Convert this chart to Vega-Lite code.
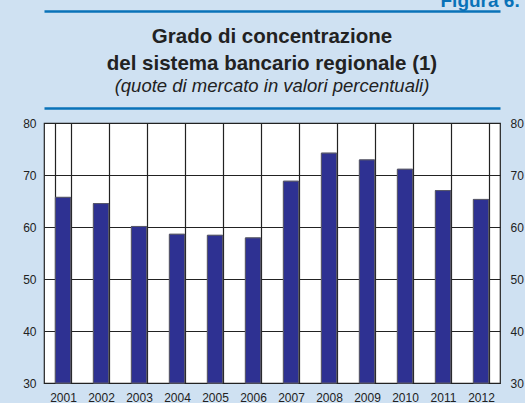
{
  "$schema": "https://vega.github.io/schema/vega-lite/v6.json",
  "width": 456,
  "height": 260,
  "autosize": {"type": "none"},
  "padding": {"left": 44, "top": 123, "right": 25, "bottom": 20},
  "background": "#cfe1f2",
  "title": {
    "text": ["Grado di concentrazione", "del sistema bancario regionale (1)"],
    "subtitle": "(quote di mercato in valori percentuali)",
    "font": "Liberation Sans",
    "fontSize": 20.5,
    "fontWeight": "bold",
    "color": "#222222",
    "lineHeight": 27,
    "subtitleFont": "Liberation Sans",
    "subtitleFontSize": 18.5,
    "subtitleFontStyle": "italic",
    "subtitleColor": "#222222",
    "subtitlePadding": 2,
    "anchor": "middle",
    "offset": -104
  },
  "data": {
    "values": [
      {"year": "2001", "value": 65.7},
      {"year": "2002", "value": 64.5},
      {"year": "2003", "value": 60.1},
      {"year": "2004", "value": 58.6},
      {"year": "2005", "value": 58.4},
      {"year": "2006", "value": 57.9},
      {"year": "2007", "value": 68.8},
      {"year": "2008", "value": 74.2},
      {"year": "2009", "value": 72.9},
      {"year": "2010", "value": 71.1},
      {"year": "2011", "value": 67.0},
      {"year": "2012", "value": 65.3}
    ]
  },
  "layer": [
    {
      "mark": {"type": "bar", "color": "#2e3192", "stroke": "#5a5a6a", "strokeWidth": 1},
      "encoding": {
        "x": {
          "field": "year",
          "type": "nominal",
          "sort": null,
          "scale": {"paddingInner": 0.6, "paddingOuter": 0.3},
          "axis": {
            "title": null,
            "orient": "bottom",
            "labelAngle": 0,
            "tickBand": "extent",
            "grid": true,
            "gridColor": "#222222",
            "gridOpacity": 1,
            "gridWidth": 1.2,
            "ticks": false,
            "domain": false,
            "labelFont": "Liberation Sans",
            "labelFontSize": 12,
            "labelColor": "#222222",
            "labelPadding": 9
          }
        },
        "y": {
          "field": "value",
          "type": "quantitative",
          "scale": {"domain": [30, 80], "nice": false, "zero": false},
          "axis": {
            "title": null,
            "orient": "left",
            "values": [30, 40, 50, 60, 70, 80],
            "grid": true,
            "gridColor": "#222222",
            "gridOpacity": 1,
            "gridWidth": 1.2,
            "ticks": false,
            "domain": false,
            "labelFont": "Liberation Sans",
            "labelFontSize": 12,
            "labelColor": "#222222",
            "labelPadding": 8
          }
        },
        "y2": {"datum": 30}
      }
    },
    {
      "mark": {"type": "bar", "color": "#2e3192", "stroke": "#5a5a6a", "strokeWidth": 1},
      "encoding": {
        "x": {
          "field": "year",
          "type": "nominal",
          "sort": null,
          "axis": {
            "title": "Figura 6.",
            "orient": "top",
            "offset": 15,
            "labels": false,
            "ticks": false,
            "grid": false,
            "domain": true,
            "domainColor": "#0a72b8",
            "domainWidth": 2.5,
            "titleFont": "Liberation Sans",
            "titleFontSize": 19,
            "titleFontWeight": "bold",
            "titleColor": "#0a72b8",
            "titleAnchor": "end",
            "titleAlign": "left",
            "titleX": 396,
            "titleY": -102,
            "titleBaseline": "alphabetic"
          }
        },
        "y": {
          "field": "value",
          "type": "quantitative",
          "axis": {
            "title": null,
            "orient": "right",
            "values": [30, 40, 50, 60, 70, 80],
            "grid": false,
            "ticks": false,
            "domain": false,
            "labelFont": "Liberation Sans",
            "labelFontSize": 12,
            "labelColor": "#222222",
            "labelPadding": 10
          }
        },
        "y2": {"datum": 30}
      }
    },
    {
      "mark": {"type": "bar", "opacity": 0},
      "encoding": {
        "x": {
          "field": "year",
          "type": "nominal",
          "sort": null,
          "axis": {
            "title": null,
            "orient": "top",
            "offset": 112,
            "labels": false,
            "ticks": false,
            "grid": false,
            "domain": true,
            "domainColor": "#0a72b8",
            "domainWidth": 2.5
          }
        },
        "y": {"field": "value", "type": "quantitative", "axis": null},
        "y2": {"datum": 30}
      }
    }
  ],
  "resolve": {"axis": {"y": "independent", "x": "independent"}},
  "config": {
    "view": {"fill": "#ffffff", "stroke": "#222222", "strokeWidth": 1.2}
  }
}
